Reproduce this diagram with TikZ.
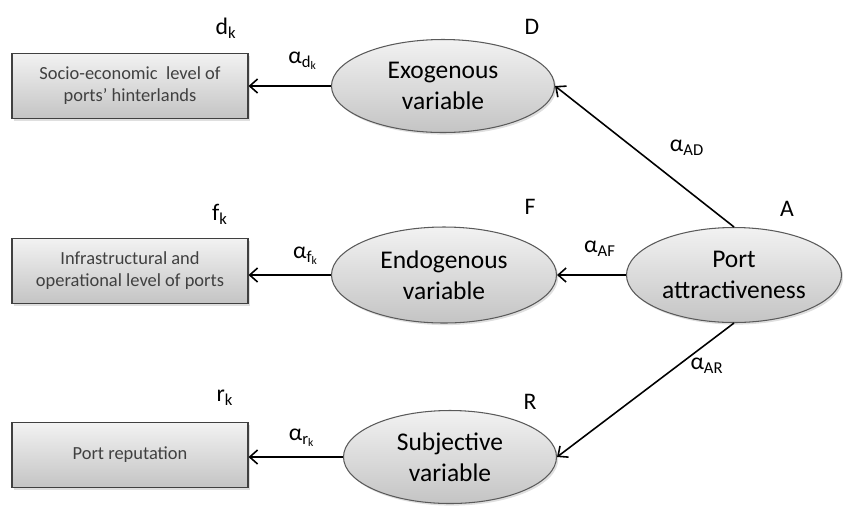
\documentclass[tikz,border=0pt]{standalone}
\usepackage{fontspec}
\setmainfont{Carlito}
\usepackage{xcolor}
\usetikzlibrary{arrows.meta,shapes.geometric,shadows}
\definecolor{boxTop}{RGB}{242,242,242}
\definecolor{boxBottom}{RGB}{196,196,196}
\definecolor{boxLine}{RGB}{64,64,64}
\definecolor{ovalLine}{RGB}{90,90,90}
\definecolor{boxText}{RGB}{64,64,64}

\begin{document}
\begin{tikzpicture}[x=1cm,y=1cm,
  itembox/.style={rectangle,draw=boxLine,line width=0.6pt,top color=boxTop,bottom color=boxBottom,minimum width=4.72cm,minimum height=1.30cm,align=center,text=boxText,font=\fontsize{10.5}{12.5}\selectfont,drop shadow={opacity=0.25,shadow xshift=1pt,shadow yshift=-1.2pt}},
  latent/.style={ellipse,draw=ovalLine,line width=0.6pt,top color=boxTop,bottom color=boxBottom,minimum width=4.46cm,minimum height=1.86cm,inner sep=0pt,align=center,font=\fontsize{14.5}{17.5}\selectfont,drop shadow={opacity=0.25,shadow xshift=1pt,shadow yshift=-1.2pt}},
  tag/.style={font=\fontsize{13.5}{15}\selectfont},
  arr/.style={-{Straight Barb[length=4.5pt,width=8pt]},line width=0.9pt}]
\path[use as bounding box] (0,0) rectangle (16.86,-10.12);

\node[itembox] (socio) at (2.60,-1.72) {Socio-economic\ \ level of\\ports’ hinterlands};
\node[itembox] (infra) at (2.60,-5.42) {Infrastructural and\\operational level of ports};
\node[itembox] (repu) at (2.60,-9.10) {Port reputation};

\node[latent] (D) at (8.86,-1.72) {Exogenous\\variable};
\node[latent,minimum width=4.50cm,minimum height=1.92cm] (F) at (8.88,-5.50) {Endogenous\\variable};
\node[latent,minimum width=4.26cm] (R) at (9.00,-9.14) {Subjective\\variable};
\node[latent,minimum width=4.30cm,minimum height=1.90cm] (A) at (14.68,-5.50) {Port\\attractiveness};

\draw[arr] (A.north) -- (D.east);
\draw[arr] (A.west) -- (F.east);
\draw[arr] (A.south) -- (R.east);
\draw[arr] (D.west) -- (D.west -| socio.east);
\draw[arr] (F.west) -- (F.west -| infra.east);
\draw[arr] (R.west) -- (R.west -| repu.east);

\node[tag] (dk) at (4.52,-0.56) {d\textsubscript{k}};
\node[tag] (fk) at (4.40,-4.28) {f\textsubscript{k}};
\node[tag] (rk) at (4.50,-7.96) {r\textsubscript{k}};
\node[tag] (adk) at (6.06,-1.22) {α\textsubscript{d\textsubscript{k}}};
\node[tag] (afk) at (6.12,-5.12) {α\textsubscript{f\textsubscript{k}}};
\node[tag] (ark) at (6.04,-8.76) {α\textsubscript{r\textsubscript{k}}};
\node[tag] (Dlab) at (10.64,-0.54) {D};
\node[tag] (Flab) at (10.60,-4.14) {F};
\node[tag] (Rlab) at (10.60,-8.04) {R};
\node[tag] (Alab) at (15.74,-4.18) {A};
\node[tag] (aAD) at (13.74,-2.96) {α\textsubscript{AD}};
\node[tag] (aAF) at (12.00,-4.98) {α\textsubscript{AF}};
\node[tag] (aAR) at (14.14,-7.32) {α\textsubscript{AR}};
\end{tikzpicture}
\end{document}
